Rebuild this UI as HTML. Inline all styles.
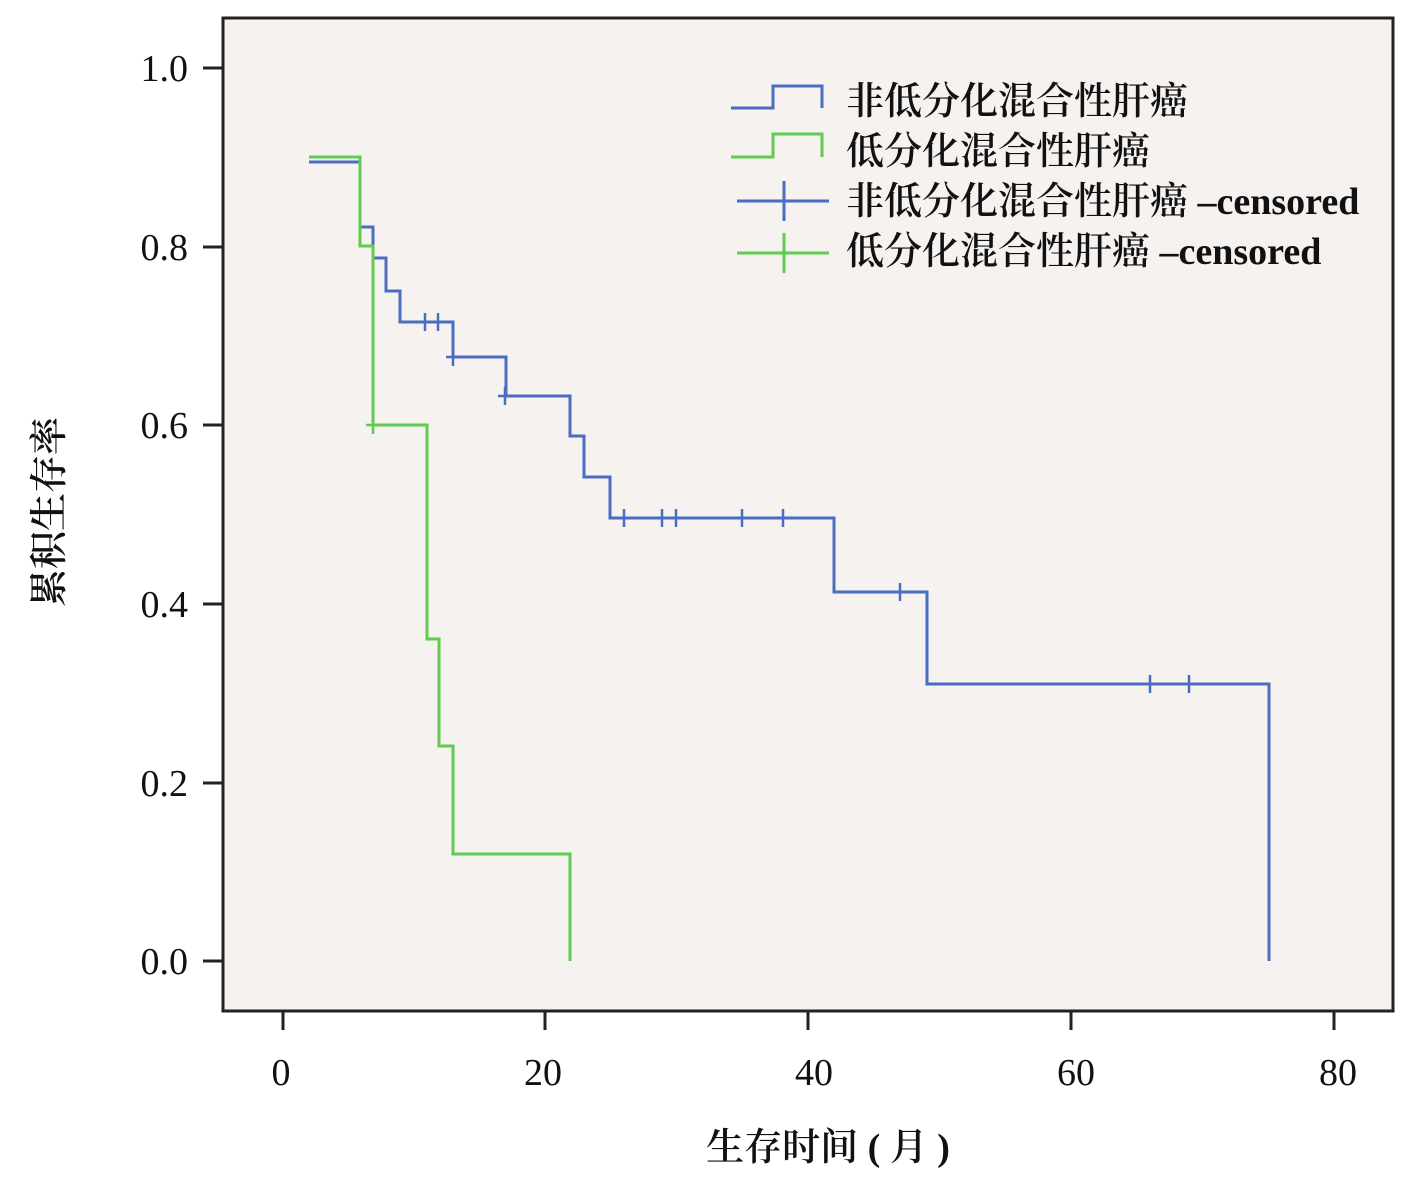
<!DOCTYPE html>
<html><head><meta charset="utf-8"><style>
body{margin:0;background:#fff;}
svg{display:block;}
text{font-family:"Liberation Serif","Noto Serif CJK SC",serif;fill:#111;font-weight:600;}
.tk text{font-weight:normal;}
</style></head><body>
<svg width="1405" height="1189" viewBox="0 0 1405 1189">
<rect x="223" y="18" width="1170" height="993" fill="#f5f2f0" stroke="#222" stroke-width="3"/>
<g stroke="#222" stroke-width="3">
<line x1="203" y1="68" x2="223" y2="68"/><line x1="203" y1="247" x2="223" y2="247"/>
<line x1="203" y1="425" x2="223" y2="425"/><line x1="203" y1="604" x2="223" y2="604"/>
<line x1="203" y1="783" x2="223" y2="783"/><line x1="203" y1="961" x2="223" y2="961"/>
<line x1="283" y1="1011" x2="283" y2="1030"/><line x1="545" y1="1011" x2="545" y2="1030"/>
<line x1="808" y1="1011" x2="808" y2="1030"/><line x1="1071" y1="1011" x2="1071" y2="1030"/>
<line x1="1334" y1="1011" x2="1334" y2="1030"/>
</g>
<g class="tk" font-size="38" text-anchor="end">
<text x="188" y="81">1.0</text><text x="188" y="260">0.8</text><text x="188" y="438">0.6</text>
<text x="188" y="617">0.4</text><text x="188" y="796">0.2</text><text x="188" y="974">0.0</text>
</g>
<g class="tk" font-size="38" text-anchor="middle">
<text x="281" y="1085">0</text><text x="543" y="1085">20</text><text x="814" y="1085">40</text>
<text x="1076" y="1085">60</text><text x="1338" y="1085">80</text>
</g>
<text x="828" y="1160" font-size="38" text-anchor="middle">生存时间 ( 月 )</text>
<text transform="translate(62,512) rotate(-90)" font-size="38" text-anchor="middle">累积生存率</text>
<polyline fill="none" stroke="#4a6cc4" stroke-width="3" points="309,162 360,162 360,227 373,227 373,258 386,258 386,291 400,291 400,322 453,322 453,357 506,357 506,396 570,396 570,436 584,436 584,477 610,477 610,518 834,518 834,592 927,592 927,684 1269,684 1269,961"/>
<polyline fill="none" stroke="#5fcc4f" stroke-width="3" points="309,157 360,157 360,246 373,246 373,425 427,425 427,639 439,639 439,746 453,746 453,854 570,854 570,961"/>
<g stroke="#4a6cc4" stroke-width="2.5">
<path d="M425,313v18M438,313v18M453,348v18M505,387v18M624,509v18M662,509v18M676,509v18M742,509v18M783,509v18M900,583v18M1150,675v18M1189,675v18"/>
<path d="M418,322h14M431,322h14M446,357h14M498,396h14M617,518h14M655,518h14M669,518h14M735,518h14M776,518h14M893,592h14M1143,684h14M1182,684h14"/>
</g>
<path d="M373,416v18M366,425h14" stroke="#5fcc4f" stroke-width="2.5"/>
<polyline fill="none" stroke="#4a6cc4" stroke-width="3" points="731,108 773,108 773,86 822,86 822,108"/>
<polyline fill="none" stroke="#5fcc4f" stroke-width="3" points="731,157 773,157 773,134 822,134 822,157"/>
<path d="M737,201h92M784,181v40" stroke="#4a6cc4" stroke-width="3"/>
<path d="M737,253h92M784,233v40" stroke="#5fcc4f" stroke-width="3"/>
<g font-size="38">
<text x="846" y="114">非低分化混合性肝癌</text>
<text x="846" y="164">低分化混合性肝癌</text>
<text x="846" y="214">非低分化混合性肝癌 –censored</text>
<text x="846" y="264">低分化混合性肝癌 –censored</text>
</g>
</svg>
</body></html>
